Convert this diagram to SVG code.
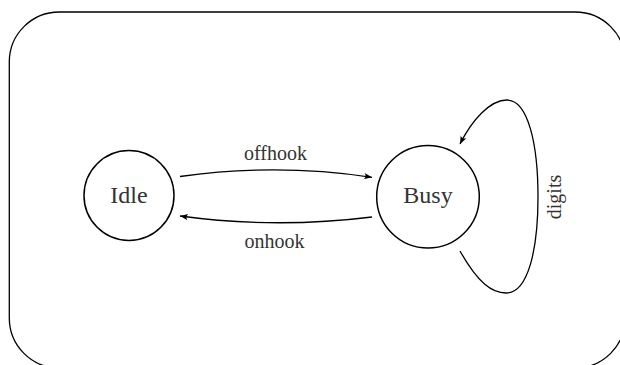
<svg xmlns="http://www.w3.org/2000/svg" width="620" height="365" viewBox="0 0 620 365">
<style>
.frame{fill:none;stroke:#000;stroke-width:1.3}
.node{fill:#fff;stroke:#000;stroke-width:1.5}
.edge{fill:none;stroke:#000;stroke-width:1.3}
.lbl{font-family:"Liberation Serif","Times New Roman",serif;fill:#333}
.ntxt{font-size:24px}
.etxt{font-size:20px}
</style>
<defs>
<marker id="arr" markerUnits="userSpaceOnUse" markerWidth="12" markerHeight="10" viewBox="-9 -5 10 10" refX="0" refY="0" orient="auto">
<path d="M0,0 L-8,-3.2 Q-5,0 -8,3.2 Z" fill="#000"/>
</marker>
</defs>
<rect class="frame" x="9.3" y="12" width="616" height="356" rx="50" ry="50"/>
<g id="connectors">
<path id="e-offhook" class="edge" d="M180,176.5 Q276,163 372,177.3" marker-end="url(#arr)"/>
<path id="e-onhook" class="edge" d="M372,217 Q276,229 180,216" marker-end="url(#arr)"/>
<path id="e-digits" class="edge" d="M460,251 C478,283 492,293 506,293 C528,293 538,250 538,197 C538,144 528,100 507,100 C490,100 472,120 460,144" marker-end="url(#arr)"/>
<text class="lbl etxt" x="275.5" y="160" text-anchor="middle">offhook</text>
<text class="lbl etxt" x="274.5" y="248" text-anchor="middle">onhook</text>
<text class="lbl etxt" x="0" y="0" text-anchor="middle" transform="translate(561,197) rotate(-90)">digits</text>
</g>
<g id="node-idle">
<circle class="node" cx="129" cy="195.5" r="45"/>
<text class="lbl ntxt" x="129" y="203.3" text-anchor="middle">Idle</text>
</g>
<g id="node-busy">
<circle class="node" cx="428" cy="196.7" r="51.3"/>
<text class="lbl ntxt" x="428" y="202.7" text-anchor="middle">Busy</text>
</g>
</svg>
